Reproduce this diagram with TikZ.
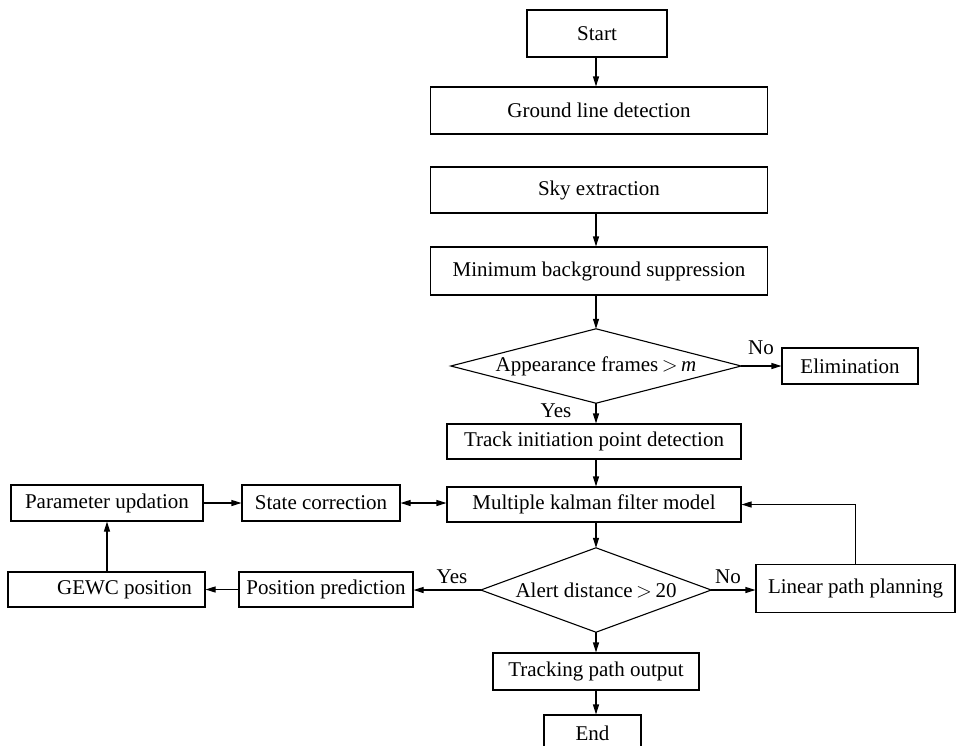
\documentclass[tikz,border=0pt]{standalone}
\usepackage{fontspec}
\setmainfont{Liberation Serif}
\usetikzlibrary{arrows.meta}
\begin{document}
\begin{tikzpicture}[x=1pt,y=-1pt,
  every node/.style={font=\fontsize{21}{25}\selectfont},
  box/.style={draw, line width=1.1pt, inner sep=0pt},
  dia/.style={inner sep=0pt},
  lbl/.style={inner sep=0pt},
  arr/.style={line width=1.1pt, -{Triangle[length=10pt,width=6pt]}},
  arrb/.style={line width=1.1pt, {Triangle[length=10pt,width=6pt]}-{Triangle[length=10pt,width=6pt]}},
  line/.style={line width=1.1pt}]
\useasboundingbox (0,0) rectangle (956,745);
\coordinate (col) at (596,0);
% main column
\node[box, minimum width=140pt, minimum height=47pt] (start) at (597,33.5) {Start};
\node[box, minimum width=337pt, minimum height=47pt] (gld) at (599,110.5) {Ground line detection};
\node[box, minimum width=337pt, minimum height=46pt] (sky) at (599,190) {Sky extraction};
\node[box, minimum width=337pt, minimum height=48pt] (mbs) at (599,271) {Minimum background suppression};
\node[dia, minimum width=290pt, minimum height=74pt] (d1) at (596,366) {Appearance frames\,$>$\,\textit{m}};
\draw[line] (d1.north) -- (d1.east) -- (d1.south) -- (d1.west) -- cycle;
\node[box, minimum width=136pt, minimum height=36pt] (elim) at (850,366) {Elimination};
\node[box, minimum width=294pt, minimum height=35pt] (tipd) at (594,441.5) {Track initiation point detection};
\node[box, minimum width=294pt, minimum height=35pt] (mkf) at (594,504.5) {Multiple kalman filter model};
\node[box, minimum width=158pt, minimum height=36pt] (sc) at (321,503) {State correction};
\node[box, minimum width=192pt, minimum height=36pt] (pu) at (107,503) {Parameter updation};
\node[box, minimum width=197pt, minimum height=35pt] (gewc) at (106.5,589.5) {\hspace*{36pt}GEWC position};
\node[box, minimum width=174pt, minimum height=35pt] (pp) at (326,589.5) {Position prediction};
\node[dia, minimum width=230pt, minimum height=84pt] (d2) at (596,590) {Alert distance\,$>$\,20};
\draw[line] (d2.north) -- (d2.east) -- (d2.south) -- (d2.west) -- cycle;
\node[box, minimum width=199pt, minimum height=48pt] (lpp) at (855.5,588.5) {Linear path planning};
\node[box, minimum width=206pt, minimum height=37pt] (tpo) at (596,671.5) {Tracking path output};
\node[box, minimum width=97pt, minimum height=36pt] (end) at (592.5,733) {End};
% labels
\node[lbl] (no1) at (761,348) {No};
\node[lbl] (yes1) at (556,411) {Yes};
\node[lbl] (yes2) at (452,577) {Yes};
\node[lbl] (no2) at (728,577) {No};
% connectors
\draw[arr] (start.south -| col) -- (gld.north -| col);
\draw[arr] (sky.south -| col) -- (mbs.north -| col);
\draw[arr] (mbs.south -| col) -- (d1.north);
\draw[arr] (d1.east) -- (d1.east -| elim.west);
\draw[arr] (d1.south) -- (tipd.north -| col);
\draw[arr] (tipd.south -| col) -- (mkf.north -| col);
\draw[arrb] (sc.east) -- (sc.east -| mkf.west);
\draw[arr] (pu.east) -- (sc.west);
\draw[arr] (gewc.north -| pu.south) -- (pu.south);
\draw[arr] (pp.west) -- (pp.west -| gewc.east);
\draw[arr] (d2.west) -- (d2.west -| pp.east);
\draw[arr] (d2.east) -- (d2.east -| lpp.west);
\draw[arr] (lpp.north) |- (mkf.east);
\draw[arr] (mkf.south -| col) -- (d2.north);
\draw[arr] (d2.south) -- (tpo.north -| col);
\draw[arr] (tpo.south -| col) -- (end.north -| col);
\end{tikzpicture}
\end{document}
